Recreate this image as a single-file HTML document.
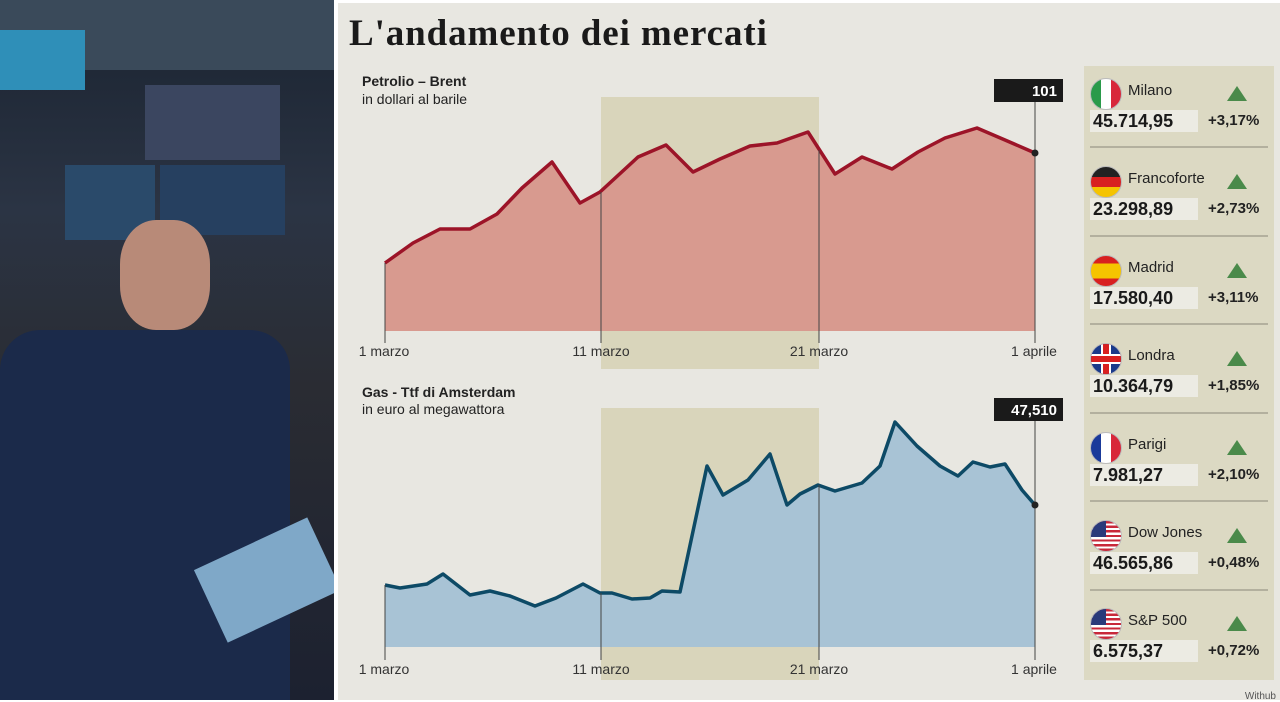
<!DOCTYPE html>
<html><head><meta charset="utf-8"><style>
body{margin:0;width:1280px;height:702px;overflow:hidden;background:#fff;font-family:"Liberation Sans",sans-serif;position:relative}
.photo{position:absolute;left:0;top:0;width:334px;height:700px;overflow:hidden;background:linear-gradient(180deg,#1a2330 0%,#2b3444 30%,#2a2c33 55%,#1c2130 100%)}
.main{position:absolute;left:338px;top:3px;width:942px;height:697px;background:#e8e7e1}
.t{position:absolute;font-size:14px;color:#222}
.row{position:absolute;left:1084px;width:190px;height:88px}
.flag{position:absolute;left:6px;top:12px;width:30px;height:30px;border-radius:50%;overflow:hidden;border:1px solid #bbb}
.nm{position:absolute;left:44px;top:16px;font-size:15px;color:#222}
.tri{position:absolute;left:143px;top:20px;width:0;height:0;border-left:10px solid transparent;border-right:10px solid transparent;border-bottom:15px solid #4a8a4a}
.val{position:absolute;left:6px;top:44px;width:108px;height:22px;background:#ecebe3;font-weight:bold;font-size:18px;color:#1a1a1a;line-height:22px;padding-left:3px;box-sizing:border-box}
.pc{position:absolute;left:124px;top:46px;font-weight:bold;font-size:15px;color:#222}
</style></head><body>
<div class="photo">
<div style="position:absolute;left:0;top:0;width:334px;height:70px;background:#3a4a5a"></div>
<div style="position:absolute;left:0;top:30px;width:85px;height:60px;background:#2f8fb8"></div>
<div style="position:absolute;left:145px;top:85px;width:135px;height:75px;background:#3b4660"></div>
<div style="position:absolute;left:65px;top:165px;width:90px;height:75px;background:#2a4a6a"></div>
<div style="position:absolute;left:160px;top:165px;width:125px;height:70px;background:#264060"></div>
<div style="position:absolute;left:120px;top:220px;width:90px;height:110px;background:#b88a78;border-radius:40%"></div>
<div style="position:absolute;left:0;top:330px;width:290px;height:370px;background:#1b2a4a;border-radius:40px 40px 0 0"></div>
<div style="position:absolute;left:205px;top:540px;width:125px;height:80px;background:#7fa8c8;transform:rotate(-25deg)"></div>
</div>
<div class="main"></div>
<div class="t" style="left:349px;top:12px;font-family:'Liberation Serif',serif;font-weight:bold;font-size:37px;letter-spacing:0.9px;color:#1a1a1a">L'andamento dei mercati</div>
<div class="t" style="left:362px;top:73px;font-weight:bold">Petrolio – Brent</div>
<div class="t" style="left:362px;top:91px">in dollari al barile</div>
<div class="t" style="left:362px;top:384px;font-weight:bold">Gas - Ttf di Amsterdam</div>
<div class="t" style="left:362px;top:401px">in euro al megawattora</div>
<svg style="position:absolute;left:0;top:0" width="1280" height="702">
<rect x="601" y="97" width="218" height="272" fill="#d9d5bb"/>
<rect x="601" y="408" width="218" height="272" fill="#d9d5bb"/>
<polygon fill="#d89a8f" points="385,331 385,263 413,243 440,229 470,229 497,214 522,188 552,162 580,203 600,192 638,157 666,145 693,172 720,159 750,146 777,143 808,132 835,174 862,157 892,169 918,152 945,138 977,128 1005,140 1035,153 1035,331"/>
<polyline fill="none" stroke="#9c1428" stroke-width="3.5" stroke-linejoin="round" points="385,263 413,243 440,229 470,229 497,214 522,188 552,162 580,203 600,192 638,157 666,145 693,172 720,159 750,146 777,143 808,132 835,174 862,157 892,169 918,152 945,138 977,128 1005,140 1035,153"/>
<polygon fill="#a8c3d5" points="385,647 385,585 400,588 427,584 443,574 470,595 490,591 510,596 535,606 556,598 583,584 600,593 612,593 632,599 650,598 662,591 680,592 707,466 723,495 748,480 770,454 787,505 800,494 818,485 835,491 862,483 880,466 895,422 917,446 940,466 958,476 973,462 990,467 1005,464 1022,490 1035,505 1035,647"/>
<polyline fill="none" stroke="#0d4a66" stroke-width="3.5" stroke-linejoin="round" points="385,585 400,588 427,584 443,574 470,595 490,591 510,596 535,606 556,598 583,584 600,593 612,593 632,599 650,598 662,591 680,592 707,466 723,495 748,480 770,454 787,505 800,494 818,485 835,491 862,483 880,466 895,422 917,446 940,466 958,476 973,462 990,467 1005,464 1022,490 1035,505"/>
<g stroke="#444" stroke-width="1">
<line x1="385" y1="263" x2="385" y2="343"/><line x1="601" y1="192" x2="601" y2="343"/><line x1="819" y1="150" x2="819" y2="343"/><line x1="1035" y1="100" x2="1035" y2="343"/>
<line x1="385" y1="585" x2="385" y2="660"/><line x1="601" y1="593" x2="601" y2="660"/><line x1="819" y1="485" x2="819" y2="660"/><line x1="1035" y1="418" x2="1035" y2="660"/>
</g>
<circle cx="1035" cy="153" r="3.5" fill="#222"/><circle cx="1035" cy="505" r="3.5" fill="#222"/>
<rect x="994" y="79" width="69" height="23" fill="#1a1a1a"/>
<rect x="994" y="398" width="69" height="23" fill="#1a1a1a"/>
<g font-family="Liberation Sans" font-size="14" fill="#333" text-anchor="middle">
<text x="384" y="356">1 marzo</text><text x="601" y="356">11 marzo</text><text x="819" y="356">21 marzo</text><text x="1034" y="356">1 aprile</text>
<text x="384" y="674">1 marzo</text><text x="601" y="674">11 marzo</text><text x="819" y="674">21 marzo</text><text x="1034" y="674">1 aprile</text>
</g>
<text x="1057" y="96" font-family="Liberation Sans" font-weight="bold" font-size="15" fill="#fff" text-anchor="end">101</text>
<text x="1057" y="415" font-family="Liberation Sans" font-weight="bold" font-size="15" fill="#fff" text-anchor="end">47,510</text>
<rect x="1084" y="66" width="190" height="614" fill="#dcd9c3"/>
<g stroke="#8a887a" stroke-width="1">
<line x1="1090" y1="147" x2="1268" y2="147"/><line x1="1090" y1="236" x2="1268" y2="236"/><line x1="1090" y1="324" x2="1268" y2="324"/><line x1="1090" y1="413" x2="1268" y2="413"/><line x1="1090" y1="501" x2="1268" y2="501"/><line x1="1090" y1="590" x2="1268" y2="590"/>
</g>
<text x="1276" y="699" font-family="Liberation Sans" font-size="10" fill="#555" text-anchor="end">Withub</text>
</svg>
<div class="row" style="top:66px"><div class="flag" style="background:linear-gradient(90deg,#2a9a4a 33%,#fff 33% 66%,#d8283a 66%)"></div><div class="nm">Milano</div><div class="tri"></div><div class="val">45.714,95</div><div class="pc">+3,17%</div></div>
<div class="row" style="top:154px"><div class="flag" style="background:linear-gradient(180deg,#222 33%,#d82020 33% 66%,#f5c400 66%)"></div><div class="nm">Francoforte</div><div class="tri"></div><div class="val">23.298,89</div><div class="pc">+2,73%</div></div>
<div class="row" style="top:243px"><div class="flag" style="background:linear-gradient(180deg,#d82020 25%,#f5c400 25% 75%,#d82020 75%)"></div><div class="nm">Madrid</div><div class="tri"></div><div class="val">17.580,40</div><div class="pc">+3,11%</div></div>
<div class="row" style="top:331px"><div class="flag" style="background:#1a3a8a"><div style="position:absolute;top:0;width:6px;height:30px;background:#d82020;border-left:2px solid #fff;border-right:2px solid #fff;left:10px"></div><div style="position:absolute;top:10px;left:0;height:6px;width:30px;background:#d82020;border-top:2px solid #fff;border-bottom:2px solid #fff"></div></div><div class="nm">Londra</div><div class="tri"></div><div class="val">10.364,79</div><div class="pc">+1,85%</div></div>
<div class="row" style="top:420px"><div class="flag" style="background:linear-gradient(90deg,#1a3a9a 33%,#fff 33% 66%,#d8283a 66%)"></div><div class="nm">Parigi</div><div class="tri"></div><div class="val">7.981,27</div><div class="pc">+2,10%</div></div>
<div class="row" style="top:508px"><div class="flag" style="background:repeating-linear-gradient(180deg,#c8283a 0 2.3px,#fff 2.3px 4.6px)"><div style="position:absolute;left:0;top:0;width:15px;height:16px;background:#2a3a7a"></div></div><div class="nm">Dow Jones</div><div class="tri"></div><div class="val">46.565,86</div><div class="pc">+0,48%</div></div>
<div class="row" style="top:596px"><div class="flag" style="background:repeating-linear-gradient(180deg,#c8283a 0 2.3px,#fff 2.3px 4.6px)"><div style="position:absolute;left:0;top:0;width:15px;height:16px;background:#2a3a7a"></div></div><div class="nm">S&amp;P 500</div><div class="tri"></div><div class="val">6.575,37</div><div class="pc">+0,72%</div></div>
</body></html>
